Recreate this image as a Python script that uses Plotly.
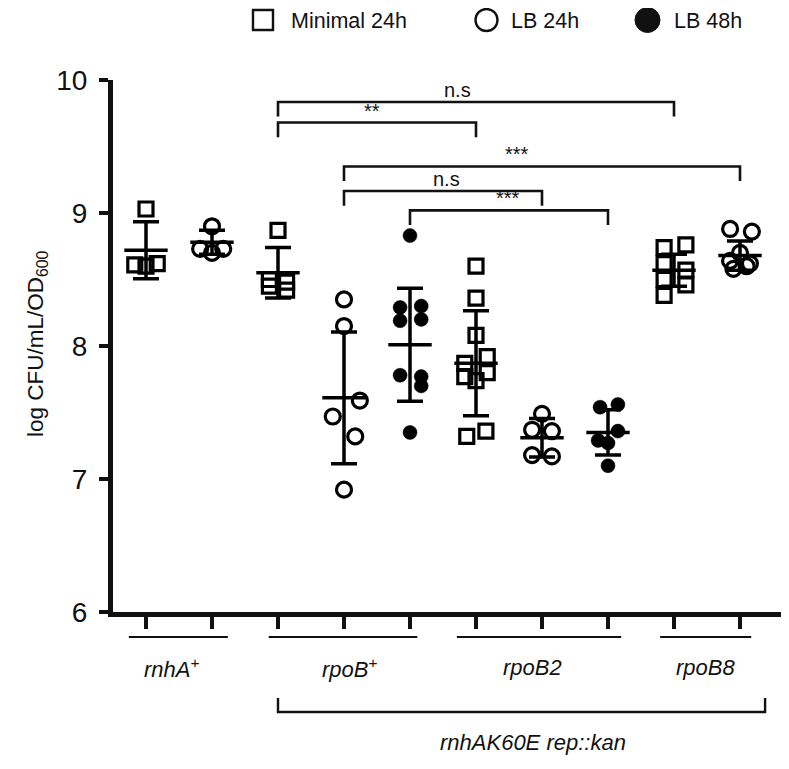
import plotly.graph_objects as go

# ---------------- data ----------------
positions = [1, 2, 3, 4, 5, 6, 7, 8, 9, 10]
series_of_group = ["Minimal 24h", "LB 24h", "Minimal 24h", "LB 24h", "LB 48h",
                   "Minimal 24h", "LB 24h", "LB 48h", "Minimal 24h", "LB 24h"]

g01 = [9.03, 8.61, 8.60, 8.62]
g02 = [8.90, 8.73, 8.70, 8.73]
g03 = [8.87, 8.50, 8.48, 8.45, 8.42]
g04 = [8.35, 8.15, 7.59, 7.47, 7.32, 6.92]
g05 = [8.83, 8.29, 8.30, 8.19, 8.20, 7.78, 7.77, 7.70, 7.35]
g06 = [8.60, 8.36, 8.08, 7.87, 7.92, 7.77, 7.80, 7.74, 7.32, 7.36]
g07 = [7.49, 7.37, 7.36, 7.18, 7.17]
g08 = [7.54, 7.56, 7.36, 7.29, 7.27, 7.10]
g09 = [8.74, 8.76, 8.62, 8.57, 8.50, 8.46, 8.38]
g10 = [8.88, 8.86, 8.70, 8.64, 8.62, 8.58, 8.60]

# horizontal scatter (jitter) of each point, in category units
j01 = [0.0, -0.17, 0.0, 0.17]
j02 = [0.0, -0.18, 0.0, 0.17]
j03 = [0.0, -0.13, 0.13, -0.13, 0.13]
j04 = [0.0, 0.0, 0.24, -0.17, 0.17, 0.0]
j05 = [0.0, -0.15, 0.17, -0.15, 0.17, -0.15, 0.17, 0.17, 0.0]
j06 = [0.0, 0.0, 0.0, -0.17, 0.17, -0.17, 0.17, 0.0, -0.14, 0.15]
j07 = [0.0, -0.15, 0.15, -0.15, 0.15]
j08 = [-0.12, 0.15, 0.15, -0.15, 0.0, 0.0]
j09 = [-0.15, 0.18, -0.15, 0.18, -0.15, 0.18, -0.15]
j10 = [-0.15, 0.18, 0.0, -0.15, 0.15, -0.1, 0.1]

means = [8.72, 8.78, 8.55, 7.61, 8.01, 7.87, 7.31, 7.35, 8.57, 8.68]
sds = [0.215, 0.09, 0.19, 0.495, 0.425, 0.395, 0.145, 0.17, 0.12, 0.11]

y_ticks = [6, 7, 8, 9, 10]

strain_labels = ["<i>rnhA</i><sup>+</sup>", "<i>rpoB</i><sup>+</sup>", "<i>rpoB2</i>", "<i>rpoB8</i>"]
strain_label_x = [1.38, 4.08, 6.86, 9.47]
strain_line_from = [0.74, 2.86, 5.71, 8.79]
strain_line_to = [2.24, 5.11, 8.20, 10.17]
background_label = "<i>rnhAK60E rep::kan</i>"

# significance brackets: (from group, to group, label)
sig_from = [3, 3, 4, 4, 5]
sig_to = [9, 6, 10, 7, 8]
sig_text = ["n.s", "**", "***", "n.s", "***"]
sig_level = [9.835, 9.68, 9.35, 9.165, 9.02]
sig_label_x = [5.72, 4.42, 6.62, 5.56, 6.48]

legend_names = ["Minimal 24h", "LB 24h", "LB 48h"]

groups = [g01, g02, g03, g04, g05, g06, g07, g08, g09, g10]
jitters = [j01, j02, j03, j04, j05, j06, j07, j08, j09, j10]

# ---------------- layout helpers ----------------
OFF = 8  # page body margin of the html page
W, H = 789 - OFF, 769 - OFF
ML, MT = 113 - OFF, 80 - OFF
PW, PH = W - ML, 532
MR, MB = 0, H - MT - PH
XR = [0.5, 0.5 + PW / 66.0]
FONT = "Liberation Sans, Arial, sans-serif"


def xp(x):  # data x -> paper x
    return (x - XR[0]) / (XR[1] - XR[0])


def pxp(px):  # page pixel x -> paper x
    return (px - OFF - ML) / PW


def pyp(py):  # page pixel y -> paper y
    return (MT + PH - (py - OFF)) / PH


styles = {
    "Minimal 24h": dict(symbol="square-open", size=14, color="black", line=dict(width=3.2, color="black")),
    "LB 24h": dict(symbol="circle-open", size=15, color="black", line=dict(width=3.2, color="black")),
    "LB 48h": dict(symbol="circle", size=14, color="black", line=dict(width=0.5, color="black")),
}

fig = go.Figure()

for pos, vals, jit, ser in zip(positions, groups, jitters, series_of_group):
    fig.add_trace(go.Scatter(
        x=[pos + j for j in jit], y=vals, mode="markers", name=ser,
        marker=styles[ser], showlegend=False, cliponaxis=False, hoverinfo="y"))

fig.add_trace(go.Scatter(
    x=positions, y=means, mode="markers", name="mean ± SD",
    marker=dict(symbol="line-ew", size=31, color="black", line=dict(width=3.5, color="black")),
    error_y=dict(type="data", array=sds, visible=True, width=13, thickness=3.5, color="black"),
    showlegend=False, cliponaxis=False))

shapes = []
annotations = []

# significance brackets
for a, b, t, lv, lx in zip(sig_from, sig_to, sig_text, sig_level, sig_label_x):
    drop = 0.11
    shapes.append(dict(type="path", xref="x", yref="y",
                       path=f"M {a},{lv - drop} L {a},{lv} L {b},{lv} L {b},{lv - drop}",
                       line=dict(color="#111", width=2.6)))
    annotations.append(dict(x=lx, y=lv, xref="x", yref="y", text=t, showarrow=False,
                            yanchor="bottom", yshift=-1, font=dict(size=20, color="#111", family=FONT)))

# strain underlines and labels
for lab, lx, a, b in zip(strain_labels, strain_label_x, strain_line_from, strain_line_to):
    shapes.append(dict(type="line", xref="paper", yref="paper",
                       x0=xp(a), x1=xp(b), y0=pyp(637), y1=pyp(637),
                       line=dict(color="#111", width=2.2)))
    annotations.append(dict(x=xp(lx), y=pyp(668), xref="paper", yref="paper", text=lab,
                            showarrow=False, yanchor="middle", xanchor="center",
                            font=dict(size=22, color="#111", family=FONT)))

# background bracket
shapes.append(dict(type="path", xref="paper", yref="paper",
                   path=(f"M {xp(3)},{pyp(698)} L {xp(3)},{pyp(712)} "
                         f"L {xp(10.38)},{pyp(712)} L {xp(10.38)},{pyp(698)}"),
                   line=dict(color="#111", width=2.4)))
annotations.append(dict(x=xp(6.87), y=pyp(742), xref="paper", yref="paper", text=background_label,
                        showarrow=False, yanchor="middle", xanchor="center",
                        font=dict(size=22, color="#111", family=FONT)))

# y-axis title
annotations.append(dict(x=pxp(37), y=pyp(344), xref="paper", yref="paper",
                        text="log CFU/mL/OD<sub>600</sub>", textangle=-90, showarrow=False,
                        xanchor="center", yanchor="middle",
                        font=dict(size=22.5, color="#111", family=FONT)))

# legend (drawn at the top)
shapes.append(dict(type="rect", xref="paper", yref="paper",
                   x0=pxp(253), x1=pxp(273), y0=pyp(10), y1=pyp(30),
                   line=dict(color="#111", width=2.4)))
shapes.append(dict(type="circle", xref="paper", yref="paper",
                   x0=pxp(475.5), x1=pxp(497.5), y0=pyp(9), y1=pyp(31),
                   line=dict(color="#111", width=2.4)))
shapes.append(dict(type="circle", xref="paper", yref="paper",
                   x0=pxp(635), x1=pxp(660), y0=pyp(7.5), y1=pyp(32.5),
                   fillcolor="#111", line=dict(color="#111", width=1)))
for txt, lx in zip(legend_names, [289, 509, 672]):
    annotations.append(dict(x=pxp(lx), y=pyp(21), xref="paper", yref="paper", text=txt,
                            showarrow=False, xanchor="left", yanchor="middle",
                            font=dict(size=21.5, color="#111", family=FONT)))

fig.update_layout(
    width=W, height=H,
    margin=dict(l=ML, r=MR, t=MT, b=MB, pad=0),
    paper_bgcolor="white", plot_bgcolor="white",
    shapes=shapes, annotations=annotations,
    showlegend=False,
    font=dict(family=FONT, color="#111"),
)
fig.update_xaxes(range=XR, tickvals=positions, showticklabels=False,
                 ticks="outside", ticklen=12, tickwidth=4, tickcolor="#111",
                 showline=True, linewidth=5, linecolor="#111",
                 showgrid=False, zeroline=False, fixedrange=True)
fig.update_yaxes(range=[6, 10], tickvals=y_ticks, ticks="outside", ticklen=9, tickwidth=4,
                 tickcolor="#111", showline=True, linewidth=5, linecolor="#111",
                 tickfont=dict(size=28, family=FONT, color="#111"), ticklabelstandoff=6,
                 showgrid=False, zeroline=False, fixedrange=True)

fig.write_html("out.html")
